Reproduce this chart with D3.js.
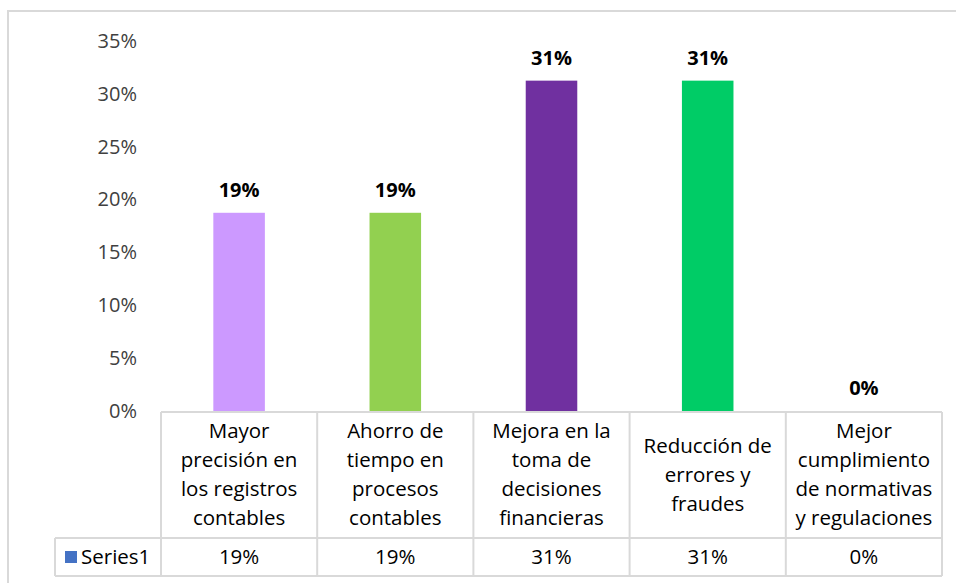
<!DOCTYPE html>
<html>
<head>
<meta charset="utf-8">
<script src="https://cdn.jsdelivr.net/npm/d3@7"></script>
<style>
  body { margin: 0; background: #fff; }
  svg { display: block; font-family: "Open Sans", sans-serif; }
</style>
</head>
<body>
<script>
// categories with the line breaks used in the original data table
let categories = [
  "Mayor\nprecisión en\nlos registros\ncontables",
  "Ahorro de\ntiempo en\nprocesos\ncontables",
  "Mejora en la\ntoma de\ndecisiones\nfinancieras",
  "Reducción de\nerrores y\nfraudes",
  "Mejor\ncumplimiento\nde normativas\ny regulaciones"
];
let values = [0.1875, 0.1875, 0.3125, 0.3125, 0];
let colors = ["#CC99FF", "#92D050", "#7030A0", "#00CC66", "#4472C4"];
let yTicks = [0, 0.05, 0.10, 0.15, 0.20, 0.25, 0.30, 0.35];
let seriesName = "Series1";

let width = 956, height = 583;
let plotTop = 41, plotBottom = 411;
let tableLeft = 55, colLeft = 161, colRight = 942;
let headerBottom = 538, tableBottom = 576;
let gridColor = "#D9D9D9";

let svg = d3.select("body").append("svg")
  .attr("width", width)
  .attr("height", height);

// chart area border
svg.append("rect")
  .attr("x", 8).attr("y", 11)
  .attr("width", width + 10).attr("height", height + 10)
  .attr("fill", "none")
  .attr("stroke", gridColor)
  .attr("stroke-width", 2);

let x = d3.scaleBand()
  .domain(d3.range(categories.length))
  .range([colLeft, colRight]);

let y = d3.scaleLinear()
  .domain([0, 0.35])
  .range([plotBottom, plotTop]);

let fmt = d3.format(".0%");

// y axis labels (no line, no gridlines)
let yAxis = d3.axisLeft(y)
  .tickValues(yTicks)
  .tickFormat(fmt)
  .tickSize(0)
  .tickPadding(0);

let gy = svg.append("g")
  .attr("transform", "translate(137,0)")
  .call(yAxis);
gy.select(".domain").remove();
gy.selectAll("text")
  .attr("font-family", "Open Sans, sans-serif")
  .attr("font-size", 20)
  .attr("fill", "#404040");

let barW = x.bandwidth() * 0.33;

svg.selectAll("rect.bar")
  .data(values)
  .enter()
  .append("rect")
  .attr("class", "bar")
  .attr("x", (d, i) => x(i) + (x.bandwidth() - barW) / 2)
  .attr("y", d => y(d))
  .attr("width", barW)
  .attr("height", d => plotBottom - y(d))
  .attr("fill", (d, i) => colors[i]);

svg.selectAll("text.val")
  .data(values)
  .enter()
  .append("text")
  .attr("class", "val")
  .attr("x", (d, i) => x(i) + x.bandwidth() / 2)
  .attr("y", d => y(d) - 16)
  .attr("text-anchor", "middle")
  .attr("font-size", 20)
  .attr("font-weight", "bold")
  .attr("fill", "#000")
  .text(d => fmt(d));

// data table
let grid = svg.append("g")
  .attr("stroke", gridColor)
  .attr("stroke-width", 2)
  .attr("fill", "none");

grid.append("line")
  .attr("x1", colLeft).attr("x2", colRight)
  .attr("y1", plotBottom + 1).attr("y2", plotBottom + 1);
grid.append("line")
  .attr("x1", tableLeft).attr("x2", colRight)
  .attr("y1", headerBottom).attr("y2", headerBottom);
grid.append("line")
  .attr("x1", tableLeft).attr("x2", colRight)
  .attr("y1", tableBottom).attr("y2", tableBottom);
grid.append("line")
  .attr("x1", tableLeft).attr("x2", tableLeft)
  .attr("y1", headerBottom).attr("y2", tableBottom);
grid.selectAll("line.col")
  .data(d3.range(categories.length + 1))
  .enter()
  .append("line")
  .attr("x1", i => i < categories.length ? x(i) : colRight)
  .attr("x2", i => i < categories.length ? x(i) : colRight)
  .attr("y1", plotBottom + 1)
  .attr("y2", tableBottom);

let lineH = 29;
let headerMid = (plotBottom + headerBottom) / 2;

categories.forEach((c, i) => {
  let lines = c.split("\n");
  let t = svg.append("text")
    .attr("text-anchor", "middle")
    .attr("font-size", 20.5)
    .attr("fill", "#000");
  lines.forEach((ln, k) => {
    t.append("tspan")
      .attr("x", x(i) + x.bandwidth() / 2)
      .attr("y", headerMid + (k - (lines.length - 1) / 2) * lineH)
      .attr("dy", "0.35em")
      .text(ln);
  });
});

let rowMid = (headerBottom + tableBottom) / 2;

svg.selectAll("text.cell")
  .data(values)
  .enter()
  .append("text")
  .attr("class", "cell")
  .attr("x", (d, i) => x(i) + x.bandwidth() / 2)
  .attr("y", rowMid)
  .attr("dy", "0.35em")
  .attr("text-anchor", "middle")
  .attr("font-size", 20.5)
  .attr("fill", "#000")
  .text(d => fmt(d));

svg.append("rect")
  .attr("x", 65).attr("y", rowMid - 6)
  .attr("width", 12).attr("height", 12)
  .attr("fill", colors[4]);

svg.append("text")
  .attr("x", 81)
  .attr("y", rowMid)
  .attr("dy", "0.35em")
  .attr("font-size", 20.5)
  .attr("fill", "#000")
  .text(seriesName);
</script>
</body>
</html>
